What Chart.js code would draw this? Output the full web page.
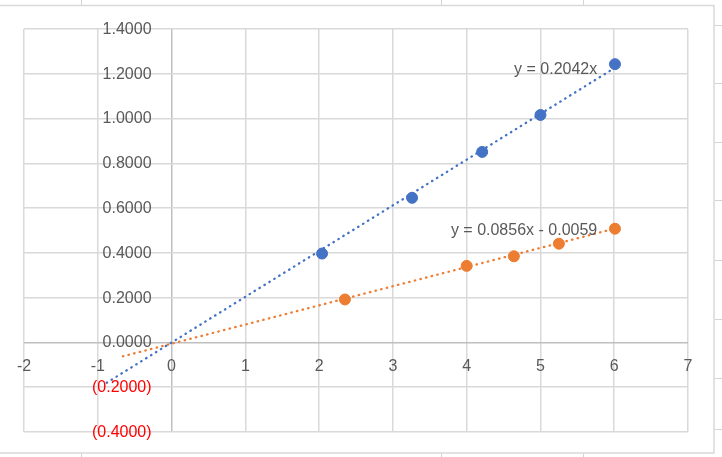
<!DOCTYPE html>
<html><head><meta charset="utf-8">
<script src="https://cdn.jsdelivr.net/npm/chart.js@4"></script>
<style>html,body{margin:0;padding:0;background:#fff;overflow:hidden} #wrap{width:722px;height:457px;position:relative}</style>
</head><body><div id="wrap"><canvas id="c" width="722" height="457"></canvas></div>
<script>
// ---- data ----
const seriesA_x = [2.04, 3.26, 4.21, 5.00, 6.01];
const seriesA_y = [0.397, 0.646, 0.851, 1.016, 1.243];
const seriesB_x = [2.35, 4.00, 4.64, 5.25, 6.01];
const seriesB_y = [0.192, 0.342, 0.385, 0.441, 0.508];
const trendA_x = [-0.88, 6.0];
const trendA_y = [-0.180, 1.225];
const trendB_x = [-0.66, 6.0];
const trendB_y = [-0.062, 0.508];
const trendLabels = ['y = 0.2042x', 'y = 0.0856x - 0.0059'];
const xTicks = [-2, -1, 0, 1, 2, 3, 4, 5, 6, 7];
const yTicks = [-0.4, -0.2, 0, 0.2, 0.4, 0.6, 0.8, 1.0, 1.2, 1.4];

const BLUE = '#4472C4', ORANGE = '#ED7D31', TXT = '#595959';
const FONT = '16px "Liberation Sans", Arial, sans-serif';
const pts = (xs, ys) => xs.map((v, i) => ({x: v, y: ys[i]}));
const fmtY = v => { const a = Math.abs(v).toFixed(4); return v < -1e-9 ? '(' + a + ')' : a; };

const sheetPlugin = {
  id: 'sheet',
  beforeDraw(chart) {
    const ctx = chart.ctx;
    ctx.save();
    ctx.fillStyle = '#fff';
    ctx.fillRect(0, 0, chart.width, chart.height);
    ctx.strokeStyle = '#d4d4d4';
    ctx.lineWidth = 1;
    // spreadsheet cell borders outside the chart frame
    [81.5, 441.5, 583.5].forEach(xx => {
      ctx.beginPath(); ctx.moveTo(xx, 0); ctx.lineTo(xx, 5); ctx.stroke();
      ctx.beginPath(); ctx.moveTo(xx, 453); ctx.lineTo(xx, 457); ctx.stroke();
    });
    [25.5, 83.5, 142.5, 200.5, 260.5, 319.5, 378.5, 429.5].forEach(yy => {
      ctx.beginPath(); ctx.moveTo(715, yy); ctx.lineTo(722, yy); ctx.stroke();
    });
    // chart frame
    ctx.strokeStyle = '#d9d9d9';
    ctx.lineWidth = 1.5;
    ctx.strokeRect(-5, 5.5, 719, 447.5);
    ctx.restore();
  },
  beforeDatasetsDraw(chart) {
    const {ctx, scales: {x, y}} = chart;
    ctx.save();
    ctx.font = FONT;
    const x0 = x.getPixelForValue(0), y0 = y.getPixelForValue(0);
    ctx.textAlign = 'right'; ctx.textBaseline = 'middle';
    yTicks.forEach(v => {
      ctx.fillStyle = v < -1e-9 ? '#FF0000' : TXT;
      ctx.fillText(fmtY(v), x0 - 20, y.getPixelForValue(v) + 0.5);
    });
    ctx.textAlign = 'center';
    ctx.fillStyle = TXT;
    xTicks.forEach(v => ctx.fillText(String(v), x.getPixelForValue(v), y0 + 24));
    ctx.restore();
  },
  afterDatasetsDraw(chart) {
    const {ctx, scales: {x, y}} = chart;
    ctx.save();
    ctx.font = FONT; ctx.fillStyle = TXT;
    ctx.textAlign = 'right'; ctx.textBaseline = 'middle';
    ctx.fillText(trendLabels[0], x.getPixelForValue(trendA_x[1]) - 17, y.getPixelForValue(trendA_y[1]) + 1);
    ctx.fillText(trendLabels[1], x.getPixelForValue(trendB_x[1]) - 17, y.getPixelForValue(trendB_y[1]) + 2);
    ctx.restore();
  }
};

const gridColor = c => (Math.abs(c.tick.value) < 1e-9 ? '#bfbfbf' : '#d9d9d9');

new Chart(document.getElementById('c'), {
  type: 'scatter',
  data: {
    datasets: [
      {data: pts(seriesA_x, seriesA_y), backgroundColor: BLUE, borderColor: BLUE, pointRadius: 5.5, pointHoverRadius: 5.5, order: 0},
      {data: pts(seriesB_x, seriesB_y), backgroundColor: ORANGE, borderColor: ORANGE, pointRadius: 5.5, pointHoverRadius: 5.5, order: 0},
      {type: 'line', data: pts(trendA_x, trendA_y), borderColor: BLUE, borderWidth: 2.3, borderDash: [0.5, 5.3], borderCapStyle: 'round', pointRadius: 0, fill: false, order: 1},
      {type: 'line', data: pts(trendB_x, trendB_y), borderColor: ORANGE, borderWidth: 2.3, borderDash: [0.5, 5.3], borderCapStyle: 'round', pointRadius: 0, fill: false, order: 1}
    ]
  },
  options: {
    responsive: false,
    animation: false,
    devicePixelRatio: 1,
    layout: {padding: {left: 24, top: 29, right: 34, bottom: 25}},
    plugins: {legend: {display: false}, tooltip: {enabled: false}},
    scales: {
      x: {
        type: 'linear', min: -2, max: 7,
        afterBuildTicks: s => { s.ticks = xTicks.map(v => ({value: v})); },
        ticks: {display: false},
        grid: {color: gridColor, lineWidth: 1.5, drawTicks: false},
        border: {display: false}
      },
      y: {
        type: 'linear', min: -0.4, max: 1.4,
        afterBuildTicks: s => { s.ticks = yTicks.map(v => ({value: v})); },
        ticks: {display: false},
        grid: {color: gridColor, lineWidth: 1.5, drawTicks: false},
        border: {display: false}
      }
    }
  },
  plugins: [sheetPlugin]
});
</script>
</body></html>
